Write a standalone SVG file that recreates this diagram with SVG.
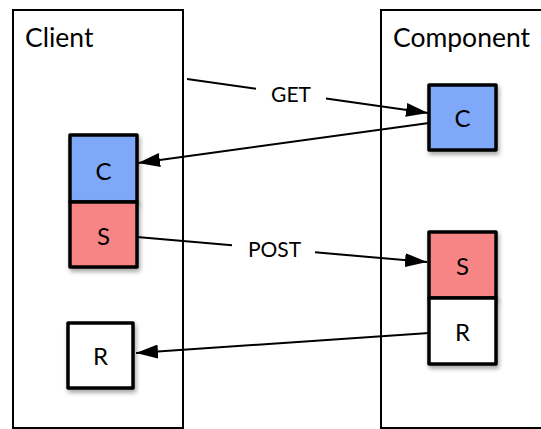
<svg xmlns="http://www.w3.org/2000/svg" width="541" height="429" viewBox="0 0 541 429">
  <defs>
    <filter id="shadow" x="-20%" y="-20%" width="150%" height="150%">
      <feDropShadow dx="1.5" dy="3" stdDeviation="2" flood-color="#000" flood-opacity="0.35"/>
    </filter>
    <marker id="arrow" viewBox="0 0 22 14" refX="22" refY="7" markerWidth="22" markerHeight="14" markerUnits="userSpaceOnUse" orient="auto">
      <path d="M0,0 L22,7 L0,14 Z" fill="#000"/>
    </marker>
    <style>
      .frame { fill: #fff; stroke: #000; stroke-width: 2; }
      .box { stroke: #000; stroke-width: 3.5; stroke-linejoin: round; filter: url(#shadow); }
      .c { fill: #80A8F8; }
      .s { fill: #F88585; }
      .r { fill: #fff; }
      .title { font-family: Lato, "Open Sans", sans-serif; font-size: 26.5px; fill: #000; }
      .lbl { font-family: Lato, "Open Sans", sans-serif; font-size: 24px; fill: #000; text-anchor: middle; }
      .elbl { font-family: Lato, "Open Sans", sans-serif; font-size: 21px; fill: #000; text-anchor: middle; }
      .edge { stroke: #000; stroke-width: 2; fill: none; }
    </style>
  </defs>

  <rect width="541" height="429" fill="#fff"/>

  <!-- containers -->
  <g id="client">
    <rect class="frame" x="13" y="10" width="170" height="418"/>
    <text class="title" x="25" y="47">Client</text>
  </g>
  <g id="component">
    <rect class="frame" x="381" y="10" width="180" height="418"/>
    <text class="title" x="393" y="47">Component</text>
  </g>

  <!-- client-side stack -->
  <g id="client-c">
    <rect class="box c" x="70" y="135" width="67" height="67"/>
    <text class="lbl" x="103.5" y="180">C</text>
  </g>
  <g id="client-s">
    <rect class="box s" x="70" y="202" width="67" height="65"/>
    <text class="lbl" x="103.5" y="245">S</text>
  </g>
  <g id="client-r">
    <rect class="box r" x="68" y="323" width="65" height="65"/>
    <text class="lbl" x="100.5" y="365">R</text>
  </g>

  <!-- component-side boxes -->
  <g id="comp-c">
    <rect class="box c" x="429" y="85" width="67" height="65"/>
    <text class="lbl" x="462.5" y="127">C</text>
  </g>
  <g id="comp-s">
    <rect class="box s" x="429" y="232" width="67" height="66"/>
    <text class="lbl" x="462.5" y="275">S</text>
  </g>
  <g id="comp-r">
    <rect class="box r" x="429" y="298" width="67" height="66"/>
    <text class="lbl" x="462.5" y="341">R</text>
  </g>

  <!-- connectors -->
  <g id="connectors">
    <line class="edge" x1="187" y1="79" x2="256" y2="88.7"/>
    <line class="edge" x1="326" y1="98.6" x2="428" y2="113" marker-end="url(#arrow)"/>
    <text class="elbl" x="291" y="102">GET</text>

    <line class="edge" x1="429" y1="123" x2="138" y2="163" marker-end="url(#arrow)"/>

    <line class="edge" x1="137" y1="237" x2="232" y2="245.2"/>
    <line class="edge" x1="315" y1="252.3" x2="427" y2="262" marker-end="url(#arrow)"/>
    <text class="elbl" x="274.5" y="257">POST</text>

    <line class="edge" x1="429" y1="333" x2="136" y2="353" marker-end="url(#arrow)"/>
  </g>
</svg>
